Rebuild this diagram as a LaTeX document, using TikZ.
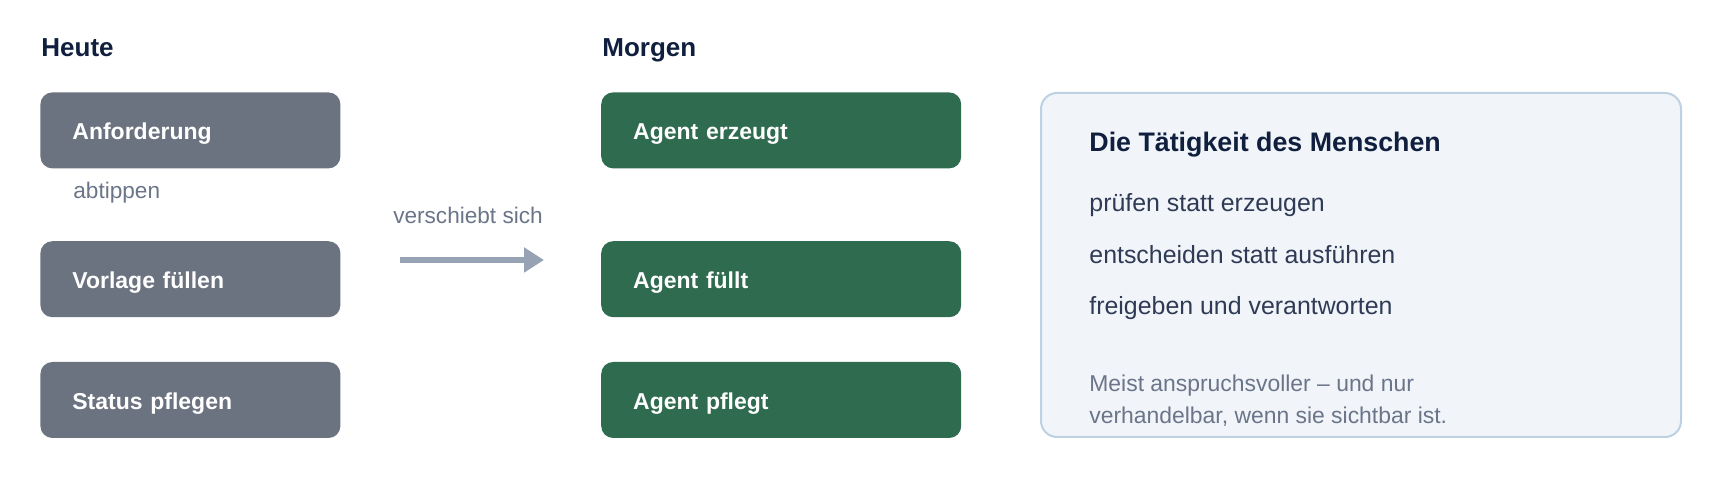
\documentclass[tikz,border=0pt]{standalone}
\usepackage{fontspec}
\setmainfont{Liberation Sans}
\usepackage{tikz}
\usetikzlibrary{positioning,arrows.meta}
\definecolor{navy}{HTML}{0F1F3D}
\definecolor{slatetext}{HTML}{2F3B55}
\definecolor{mutedtext}{HTML}{6B7589}
\definecolor{heutegray}{HTML}{6B7280}
\definecolor{agentgreen}{HTML}{2F6B4F}
\definecolor{arrowgray}{HTML}{98A2B5}
\definecolor{panelfill}{HTML}{F1F5FA}
\definecolor{panelline}{HTML}{BDD1E2}
\tikzstyle{spalte} = [anchor=base west, inner sep=0pt, text=navy, font=\fontsize{13pt}{15pt}\selectfont\bfseries]
\tikzstyle{heutebox} = [fill=heutegray, rounded corners=6pt, text=white, align=left, text width=118pt, inner xsep=16pt, inner ysep=0pt, minimum height=38pt, text height=0.93em, text depth=0pt, font=\fontsize{11.5pt}{14pt}\selectfont\bfseries]
\tikzstyle{agentbox} = [heutebox, fill=agentgreen, text width=148pt]
\tikzstyle{hinweis} = [inner sep=0pt, text=mutedtext, font=\fontsize{11.3pt}{14pt}\selectfont]
\tikzstyle{panel} = [draw=panelline, fill=panelfill, line width=1pt, rounded corners=8pt, minimum width=320pt, minimum height=172pt, anchor=north west, inner sep=0pt]
\tikzstyle{paneltitel} = [anchor=base west, inner sep=0pt, text=navy, font=\fontsize{13.4pt}{16pt}\selectfont\bfseries]
\tikzstyle{panelpunkt} = [anchor=base west, inner sep=0pt, text=slatetext, font=\fontsize{12.45pt}{15pt}\selectfont]
\tikzstyle{panelnotiz} = [anchor=base west, inner sep=0pt, text=mutedtext, align=left, font=\fontsize{11.45pt}{16.15pt}\selectfont]
\tikzstyle{verschiebung} = [draw=arrowgray, line width=3.25pt, -{Triangle[length=10pt,width=12pt]}]

\begin{document}
\begin{tikzpicture}[x=0.5pt,y=-0.5pt]
	\useasboundingbox (0,0) rectangle (1720,480);
	\node[spalte] (heute) at (41,57) {Heute};
	\node[spalte] (morgen) at (602,57) {Morgen};
	\node[heutebox, anchor=north west] (anf) at (40,92) {Anforderung};
	\node[heutebox, below=36pt of anf] (vorlage) {Vorlage füllen};
	\node[heutebox, below=22pt of vorlage] (status) {Status pflegen};
	\node[agentbox, right=130pt of anf] (erzeugt) {Agent erzeugt};
	\node[agentbox, right=130pt of vorlage] (fuellt) {Agent füllt};
	\node[agentbox, right=130pt of status] (pflegt) {Agent pflegt};
	\node[hinweis, anchor=base west] (abtippen) at (73,199) {abtippen};
	\node[hinweis, anchor=base] (verschiebt) at (468,224) {verschiebt sich};
	\coordinate (pfeilstart) at (400,260);
	\coordinate (pfeilende) at (544,260);
	\draw[verschiebung] (pfeilstart) -- (pfeilende);
	\node[panel] (mensch) at (1040,92) {};
	\node[paneltitel] (titel) at (1089,152) {Die Tätigkeit des Menschen};
	\node[panelpunkt] (pruefen) at (1089,212) {prüfen statt erzeugen};
	\node[panelpunkt] (entscheiden) at (1089,264) {entscheiden statt ausführen};
	\node[panelpunkt] (freigeben) at (1089,315) {freigeben und verantworten};
	\node[panelnotiz] (notiz) at (1089,424) {Meist anspruchsvoller – und nur\\verhandelbar, wenn sie sichtbar ist.};
\end{tikzpicture}
\end{document}
